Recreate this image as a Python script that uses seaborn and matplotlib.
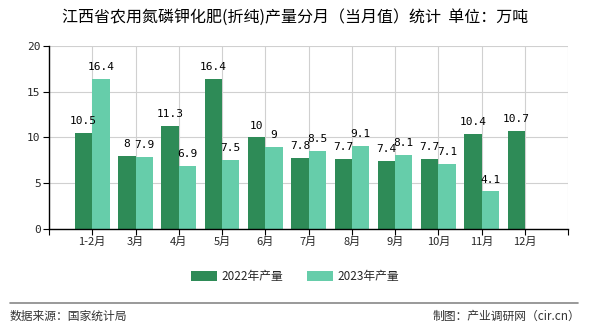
import matplotlib
matplotlib.use("Agg")
import matplotlib.pyplot as plt
import seaborn as sns
import pandas as pd
import numpy as np
from matplotlib.lines import Line2D
from matplotlib.patches import Patch

months = ["1-2月", "3月", "4月", "5月", "6月", "7月", "8月", "9月", "10月", "11月", "12月"]
v2022 = [10.5, 8, 11.3, 16.4, 10, 7.8, 7.7, 7.4, 7.7, 10.4, 10.7]
v2023 = [16.4, 7.9, 6.9, 7.5, 9, 8.5, 9.1, 8.1, 7.1, 4.1, np.nan]
series = ["2022年产量", "2023年产量"]
colors = ["#2E8B57", "#66CDAA"]
yticks = [0, 5, 10, 15, 20]

sns.set_theme(style="white")
plt.rcParams["font.family"] = ["Noto Sans CJK SC", "DejaVu Sans"]

df = pd.DataFrame({
    "month": months * 2,
    "value": v2022 + v2023,
    "series": [series[0]] * len(months) + [series[1]] * len(months),
})

fig = plt.figure(figsize=(5.9, 3.3), dpi=100)
ax = fig.add_axes([0.083, 0.306, 0.88, 0.555])

sns.barplot(data=df, x="month", y="value", hue="series", hue_order=series,
            palette=colors, width=0.8, saturation=1, ax=ax, legend=False,
            order=months, errorbar=None, linewidth=0, edgecolor="none", gap=0)

ax.set_xlim(-1, len(months))
ax.set_ylim(0, 20)
ax.set_yticks(yticks)
ax.set_yticklabels([str(t) for t in yticks], fontsize=8, family=["DejaVu Sans Mono"])
ax.set_xticks(range(-1, len(months) + 1))
ax.set_xticklabels([""] + months + [""], fontsize=8)
ax.set_xlabel("")
ax.set_ylabel("")
ax.grid(True, color="#d0d0d0", linewidth=0.8)
ax.set_axisbelow(True)
for s in ["top", "right"]:
    ax.spines[s].set_visible(False)
for s in ["left", "bottom"]:
    ax.spines[s].set_color("black")
    ax.spines[s].set_linewidth(1)
ax.tick_params(axis="both", length=4, width=0.8, color="black", pad=2, direction="out")
ax.tick_params(axis="x", bottom=True)
ax.tick_params(axis="y", left=True)

for cont in ax.containers:
    for bar in cont:
        h = bar.get_height()
        if np.isnan(h) or h == 0:
            continue
        txt = f"{h:g}"
        ax.annotate(txt, (bar.get_x() + bar.get_width() / 2, h),
                    xytext=(0, 5), textcoords="offset points",
                    ha="center", va="bottom", fontsize=8,
                    family=["DejaVu Sans Mono"], color="black")

fig.text(0.5, 0.947, "江西省农用氮磷钾化肥(折纯)产量分月（当月值）统计  单位：万吨",
         ha="center", va="center", fontsize=11.5, color="black")

handles = [Patch(facecolor=c, edgecolor="none") for c in colors]
fig.legend(handles, series, loc="center", bbox_to_anchor=(0.5, 0.162), ncol=2,
           frameon=False, fontsize=8.5, handlelength=2.2, handleheight=0.9,
           columnspacing=2.0, handletextpad=0.4)

fig.add_artist(Line2D([0.017, 0.98], [0.082, 0.082], transform=fig.transFigure,
                      color="#888888", linewidth=1.2))
fig.text(0.017, 0.042, "数据来源：国家统计局", ha="left", va="center", fontsize=8.5, color="#333333")
fig.text(0.983, 0.042, "制图：产业调研网（cir.cn）", ha="right", va="center", fontsize=8.5, color="#333333")

fig.savefig("out.png", dpi=100, facecolor="white")
